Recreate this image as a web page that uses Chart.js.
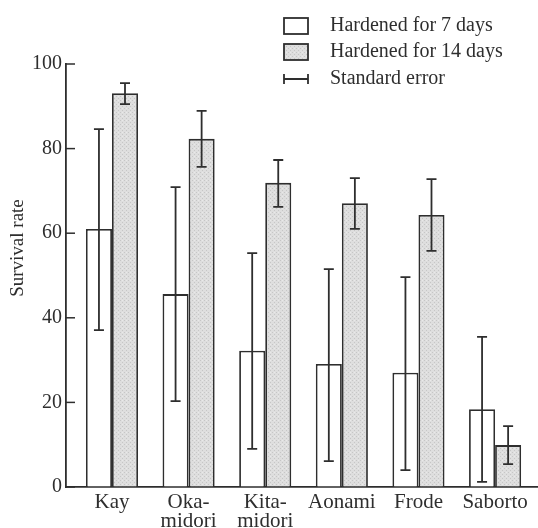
<!DOCTYPE html>
<html>
<head>
<meta charset="utf-8">
<script src="https://cdn.jsdelivr.net/npm/chart.js@4.4.1/dist/chart.umd.min.js"></script>
<style>
html,body{margin:0;padding:0;background:#fff;}
#wrap{position:relative;width:538px;height:528px;}
</style>
</head>
<body>
<div id="wrap"><canvas id="c" width="538" height="528"></canvas></div>
<script>
// ---- data ----
const categories = [['Kay'], ['Oka-', 'midori'], ['Kita-', 'midori'], ['Aonami'], ['Frode'], ['Saborto']];
const seriesLabels = ['Hardened for 7 days', 'Hardened for 14 days'];
const errorLabel = 'Standard error';
const survival7 = [61.0, 45.6, 32.2, 29.1, 27.0, 18.4];
const upper7 = [84.6, 70.9, 55.3, 51.5, 49.6, 35.5];
const lower7 = [37.1, 20.3, 9.0, 6.1, 4.0, 1.2];
const survival14 = [93.1, 82.3, 71.9, 67.1, 64.3, 9.9];
const upper14 = [95.5, 88.9, 77.3, 73.0, 72.8, 14.4];
const lower14 = [90.5, 75.7, 66.2, 61.0, 55.8, 5.4];
const yTicks = [0, 20, 40, 60, 80, 100];
const yTitle = 'Survival rate';

// ---- styles ----
const INK = '#2e2e2e';
const FONT = '"Liberation Serif", "Times New Roman", serif';

function makePattern() {
  const p = document.createElement('canvas');
  p.width = 4; p.height = 4;
  const g = p.getContext('2d');
  g.fillStyle = '#dedede';
  g.fillRect(0, 0, 4, 4);
  g.fillStyle = '#c6c6c6';
  g.fillRect(0, 0, 1, 1);
  g.fillRect(2, 2, 1, 1);
  g.fillStyle = '#e9e9e9';
  g.fillRect(2, 0, 1, 1);
  return g.createPattern(p, 'repeat');
}
const grayFill = makePattern();

const errorBars = {
  id: 'errorBars',
  afterDatasetsDraw(chart) {
    const ctx = chart.ctx;
    const ys = chart.scales.y;
    const sets = [[upper7, lower7], [upper14, lower14]];
    ctx.save();
    ctx.strokeStyle = INK;
    ctx.lineWidth = 1.8;
    sets.forEach((s, d) => {
      const meta = chart.getDatasetMeta(d);
      meta.data.forEach((el, i) => {
        const x = el.x;
        const yt = ys.getPixelForValue(s[0][i]);
        const yb = ys.getPixelForValue(s[1][i]);
        ctx.beginPath();
        ctx.moveTo(x, yt); ctx.lineTo(x, yb);
        ctx.moveTo(x - 5, yt); ctx.lineTo(x + 5, yt);
        ctx.moveTo(x - 5, yb); ctx.lineTo(x + 5, yb);
        ctx.stroke();
      });
    });
    ctx.restore();
  }
};

const decor = {
  id: 'decor',
  afterDraw(chart) {
    const ctx = chart.ctx;
    const ys = chart.scales.y;
    const left = chart.chartArea.left;
    ctx.save();
    // inward tick marks
    ctx.strokeStyle = INK;
    ctx.lineWidth = 1.5;
    ys.ticks.forEach(t => {
      const y = ys.getPixelForValue(t.value);
      ctx.beginPath();
      ctx.moveTo(left - 1, y); ctx.lineTo(left + 9, y);
      ctx.stroke();
    });
    // y title
    ctx.fillStyle = INK;
    ctx.font = '19px ' + FONT;
    ctx.textAlign = 'center';
    ctx.textBaseline = 'middle';
    ctx.translate(18, 248);
    ctx.rotate(-Math.PI / 2);
    ctx.fillText(yTitle, 0, 0);
    ctx.restore();

    // legend
    ctx.save();
    const bx = 284, bw = 24, bh = 16, tx = 330;
    const rows = [26, 52, 79];
    ctx.strokeStyle = INK;
    ctx.lineWidth = 1.8;
    ctx.fillStyle = '#ffffff';
    ctx.fillRect(bx, rows[0] - bh / 2, bw, bh);
    ctx.strokeRect(bx, rows[0] - bh / 2, bw, bh);
    ctx.fillStyle = grayFill;
    ctx.fillRect(bx, rows[1] - bh / 2, bw, bh);
    ctx.strokeRect(bx, rows[1] - bh / 2, bw, bh);
    ctx.beginPath();
    ctx.moveTo(bx, rows[2]); ctx.lineTo(bx + bw, rows[2]);
    ctx.moveTo(bx, rows[2] - 5); ctx.lineTo(bx, rows[2] + 5);
    ctx.moveTo(bx + bw, rows[2] - 5); ctx.lineTo(bx + bw, rows[2] + 5);
    ctx.stroke();
    ctx.fillStyle = INK;
    ctx.font = '20px ' + FONT;
    ctx.textAlign = 'left';
    ctx.textBaseline = 'middle';
    ctx.fillText(seriesLabels[0], tx, rows[0]);
    ctx.fillText(seriesLabels[1], tx, rows[1]);
    ctx.fillText(errorLabel, tx, rows[2]);
    ctx.restore();
  }
};

new Chart(document.getElementById('c'), {
  type: 'bar',
  data: {
    datasets: [
      {
        label: seriesLabels[0],
        data: survival7.map((v, i) => ({ x: i, y: v })),
        backgroundColor: '#ffffff',
        borderColor: INK,
        borderWidth: 1.8
      },
      {
        label: seriesLabels[1],
        data: survival14.map((v, i) => ({ x: i, y: v })),
        backgroundColor: grayFill,
        borderColor: INK,
        borderWidth: 1.8
      }
    ]
  },
  options: {
    responsive: false,
    animation: false,
    devicePixelRatio: 1,
    layout: { padding: { top: 64, left: 0, right: 0, bottom: 0 } },
    datasets: { bar: { categoryPercentage: 0.68, barPercentage: 1.0 } },
    plugins: { legend: { display: false }, tooltip: { enabled: false } },
    scales: {
      x: {
        type: 'linear',
        offset: false,
        min: -0.6,
        max: 5.56,
        afterBuildTicks(scale) { scale.ticks = categories.map((_, i) => ({ value: i })); },
        afterFit(scale) { scale.height = 41; },
        ticks: {
          autoSkip: false,
          maxRotation: 0,
          padding: 6,
          color: INK,
          font: { family: FONT, size: 21, lineHeight: 0.92 },
          callback: (v) => categories[v]
        },
        grid: { offset: false, drawOnChartArea: false, drawTicks: false },
        border: { display: true, color: INK, width: 1.8 }
      },
      y: {
        min: 0,
        max: 100,
        afterBuildTicks(scale) { scale.ticks = yTicks.map(v => ({ value: v })); },
        afterFit(scale) { scale.width = 66; },
        ticks: {
          padding: 4,
          color: INK,
          font: { family: FONT, size: 20 }
        },
        grid: { drawOnChartArea: false, drawTicks: false },
        border: { display: true, color: INK, width: 1.8 }
      }
    }
  },
  plugins: [errorBars, decor]
});
</script>
</body>
</html>
